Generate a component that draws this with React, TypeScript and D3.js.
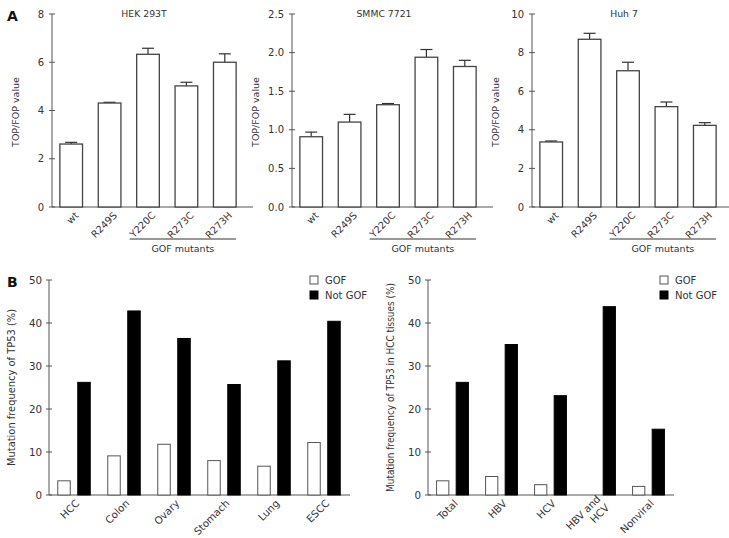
import React from "react";
import * as d3 from "d3";

const mutants = ["wt", "R249S", "Y220C", "R273C", "R273H"];
const hekValues = [2.61, 4.31, 6.33, 5.02, 6.0];
const hekErrors = [0.07, 0.03, 0.25, 0.15, 0.35];
const smmcValues = [0.91, 1.1, 1.325, 1.94, 1.82];
const smmcErrors = [0.06, 0.1, 0.015, 0.1, 0.08];
const huhValues = [3.37, 8.69, 7.06, 5.2, 4.23];
const huhErrors = [0.05, 0.31, 0.44, 0.24, 0.14];
const hekTicks = [0, 2, 4, 6, 8];
const smmcTicks = [0, 0.5, 1.0, 1.5, 2.0, 2.5];
const huhTicks = [0, 2, 4, 6, 8, 10];

const cancers = ["HCC", "Colon", "Ovary", "Stomach", "Lung", "ESCC"];
const cancerGof = [3.3, 9.1, 11.8, 8.0, 6.7, 12.2];
const cancerNotGof = [26.2, 42.8, 36.4, 25.7, 31.2, 40.4];
const hccGroups = ["Total", "HBV", "HCV", "HBV and\nHCV", "Nonviral"];
const hccGof = [3.3, 4.3, 2.4, 0, 2.0];
const hccNotGof = [26.2, 35.0, 23.1, 43.8, 15.3];
const freqTicks = [0, 10, 20, 30, 40, 50];
const seriesNames = ["GOF", "Not GOF"];

const FONT = "'DejaVu Sans', Verdana, sans-serif";
const TXT = "#333";
const AX = "#555";

type AProps = {
  left: number;
  title: string;
  values: number[];
  errors: number[];
  ticks: number[];
  fmt: (v: number) => string;
};

function PanelA({ left, title, values, errors, ticks, fmt }: AProps) {
  const top = 14, bottom = 207;
  const y = d3.scaleLinear().domain([0, ticks[ticks.length - 1]]).range([bottom, top]);
  const x = d3.scaleBand<string>().domain(mutants).range([left, left + 192]).paddingInner(0.41).paddingOuter(0.205);
  const bw = x.bandwidth();
  const bx1 = (x("Y220C") as number) - 7;
  const bx2 = (x("R273H") as number) + bw;
  return (
    <g fontFamily={FONT} fill={TXT}>
      <text x={left + 92} y={17} textAnchor="middle" fontSize={9.3}>{title}</text>
      <line x1={left} x2={left} y1={top} y2={bottom} stroke={AX} />
      <line x1={left} x2={left + 201} y1={bottom} y2={bottom} stroke={AX} />
      {ticks.map((t) => (
        <g key={t}>
          <line x1={left - 3} x2={left + 3} y1={y(t)} y2={y(t)} stroke={AX} />
          <text x={left - 8} y={y(t) + 3.5} textAnchor="end" fontSize={10}>{fmt(t)}</text>
        </g>
      ))}
      <text transform={`translate(${left - 33},112) rotate(-90)`} textAnchor="middle" fontSize={9.5}>TOP/FOP value</text>
      {mutants.map((m, i) => {
        const cx = (x(m) as number) + bw / 2;
        const yt = y(values[i]);
        const ye = y(values[i] + errors[i]);
        return (
          <g key={m}>
            <line x1={cx} x2={cx} y1={yt} y2={ye} stroke="#333" strokeWidth={1.2} />
            <line x1={cx - 6} x2={cx + 6} y1={ye} y2={ye} stroke="#333" strokeWidth={1.2} />
            <rect x={x(m)} y={yt} width={bw} height={bottom - yt} fill="#fff" stroke="#444" strokeWidth={1.3} />
            <text transform={`translate(${cx + 8},${bottom + 9}) rotate(-45)`} textAnchor="end" fontSize={9.8}>{m}</text>
          </g>
        );
      })}
      <line x1={bx1} x2={bx2} y1={239} y2={239} stroke="#333" />
      <text x={(bx1 + bx2) / 2} y={251.5} textAnchor="middle" fontSize={9.5}>GOF mutants</text>
    </g>
  );
}

type BProps = {
  left: number;
  width: number;
  groups: string[];
  gof: number[];
  notGof: number[];
  label: string;
  labelLen: number;
  legendX: number;
};

function PanelB({ left, width, groups, gof, notGof, label, labelLen, legendX }: BProps) {
  const top = 280, bottom = 495;
  const y = d3.scaleLinear().domain([0, 50]).range([bottom, top]);
  const x0 = d3.scaleBand<string>().domain(groups).range([left, left + width]);
  const x1 = d3.scaleBand<string>().domain(seriesNames).range([0, x0.bandwidth()]).paddingInner(0.375).paddingOuter(0.4375);
  const bw = x1.bandwidth();
  const series = [gof, notGof];
  return (
    <g fontFamily={FONT} fill={TXT}>
      <line x1={left} x2={left} y1={top} y2={bottom} stroke={AX} />
      <line x1={left} x2={left + width + 1} y1={bottom} y2={bottom} stroke={AX} />
      {freqTicks.map((t) => (
        <g key={t}>
          <line x1={left - 3} x2={left + 3} y1={y(t)} y2={y(t)} stroke={AX} />
          <text x={left - 7} y={y(t) + 3.5} textAnchor="end" fontSize={10.3}>{t}</text>
        </g>
      ))}
      <text transform={`translate(${left - 34},${(top + bottom) / 2}) rotate(-90)`} textAnchor="middle" fontSize={9.8} textLength={labelLen} lengthAdjust="spacingAndGlyphs">{label}</text>
      {groups.map((g, gi) => {
        const gx = x0(g) as number;
        const cx = gx + x0.bandwidth() / 2;
        const lines = g.split("\n");
        return (
          <g key={g}>
            {seriesNames.map((s, si) => {
              const v = series[si][gi];
              if (v <= 0) return null;
              return (
                <rect key={s} x={gx + (x1(s) as number)} y={y(v)} width={bw} height={bottom - y(v)}
                  fill={si === 0 ? "#fff" : "#000"} stroke={si === 0 ? "#555" : "#000"} strokeWidth={1} />
              );
            })}
            <text transform={`translate(${cx + 6},${bottom + 9}) rotate(-45)`} textAnchor="end" fontSize={10.2}>
              {lines.map((l, li) => (
                <tspan key={li} x={0} dy={li === 0 ? `${-(lines.length - 1) * 0.6}em` : "1.2em"}>{l}</tspan>
              ))}
            </text>
          </g>
        );
      })}
      {seriesNames.map((s, si) => (
        <g key={s}>
          <rect x={legendX} y={276 + si * 15} width={8} height={8} fill={si === 0 ? "#fff" : "#000"} stroke={si === 0 ? "#555" : "#000"} />
          <text x={legendX + 15} y={284 + si * 15} fontSize={10}>{s}</text>
        </g>
      ))}
    </g>
  );
}

export default function App() {
  return (
    <div style={{ position: "absolute", left: 0, top: 0 }}>
      <svg width={729} height={538} style={{ display: "block", background: "#fff" }}>
        <text x={7} y={21} fontFamily={FONT} fontWeight="bold" fontSize={14} fill="#111">A</text>
        <text x={7} y={287} fontFamily={FONT} fontWeight="bold" fontSize={14} fill="#111">B</text>
        <PanelA left={52} title="HEK 293T" values={hekValues} errors={hekErrors} ticks={hekTicks} fmt={(v) => String(v)} />
        <PanelA left={292} title="SMMC 7721" values={smmcValues} errors={smmcErrors} ticks={smmcTicks} fmt={(v) => v.toFixed(1)} />
        <PanelA left={532} title="Huh 7" values={huhValues} errors={huhErrors} ticks={huhTicks} fmt={(v) => String(v)} />
        <PanelB left={49} width={300} groups={cancers} gof={cancerGof} notGof={cancerNotGof}
          label="Mutation frequency of TP53 (%)" labelLen={157} legendX={310} />
        <PanelB left={428} width={245} groups={hccGroups} gof={hccGof} notGof={hccNotGof}
          label="Mutation frequency of TP53 in HCC tissues (%)" labelLen={209} legendX={660} />
      </svg>
    </div>
  );
}
